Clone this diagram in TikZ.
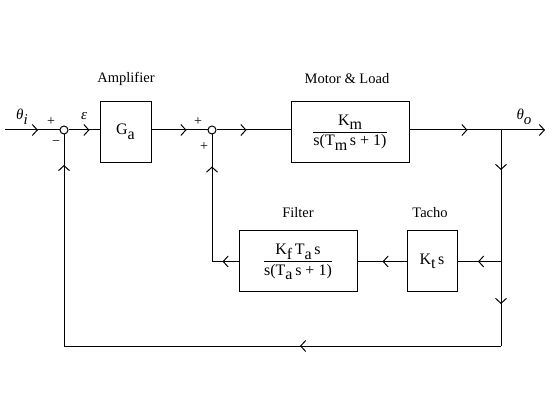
\documentclass[tikz,border=0pt]{standalone}
\usepackage{fontspec}
\setmainfont{Liberation Serif}
\usetikzlibrary{arrows.meta,decorations.markings}
\newcommand\lowsub[1]{\raisebox{-4.5pt}{#1}}
\begin{document}
\begin{tikzpicture}[x=1pt,y=-1pt, line width=1pt,
  >={Straight Barb[length=5pt,width=11pt]},
  blk/.style={draw, inner sep=0pt, font=\fontsize{16}{18}\selectfont},
  sumj/.style={draw, circle, minimum size=8pt, inner sep=0pt},
  lbl/.style={font=\fontsize{14.5}{16}\selectfont, inner sep=0pt},
  sgn/.style={font=\fontsize{14}{16}\selectfont, inner sep=0pt},
  sym/.style={font=\fontsize{15}{17}\selectfont\itshape, inner sep=0pt},
  tipat/.style={postaction={decorate,decoration={markings,mark=at position #1 with {\arrow{>}}}}}]
\fill[white] (0,0) rectangle (560,414);
\useasboundingbox (0,0) rectangle (560,414);

% blocks
\node[blk, minimum width=51pt, minimum height=61pt] (ga) at (125.5,132) {G\lowsub{a}};
\node[blk, minimum width=118pt, minimum height=61pt] (motor) at (350,132)
  {\begin{tabular}{@{}c@{}}K\lowsub{m}\\[1pt]\hline\rule{0pt}{14pt}s(T\lowsub{m}\,s + 1)\end{tabular}};
\node[blk, minimum width=50pt, minimum height=61pt] (tacho) at (432,261.5) {K\lowsub{t}\,s};
\node[blk, minimum width=118pt, minimum height=61pt] (filter) at (298,261.5)
  {\begin{tabular}{@{}c@{}}K\lowsub{f}\,T\lowsub{a}\,s\\[1pt]\hline\rule{0pt}{14pt}s(T\lowsub{a}\,s + 1)\end{tabular}};

% summing junctions
\node[sumj] (s1) at (64,130) {};
\node[sumj] (s2) at (212,130) {};

% coordinates
\coordinate (src) at (5,130);
\coordinate (br) at (501,130);
\coordinate (out) at (545,130);
\coordinate (bl) at (501,346);

% labels
\node[lbl] (lamp) at (126,79) {Amplifier};
\node[lbl] (lmot) at (347,79) {Motor \& Load};
\node[lbl] (lfil) at (298,213) {Filter};
\node[lbl] (ltac) at (430,213) {Tacho};
\node[sym] (thi) at (22,117) {θ\lowsub{i}};
\node[sym] (tho) at (524,117) {θ\lowsub{o}};
\node[sym] (eps) at (84,116) {ε};
\node[sgn] (p1) at (51,122) {+};
\node[sgn] (m1) at (56,143) {−};
\node[sgn] (p2) at (198,122) {+};
\node[sgn] (p3) at (204,147) {+};

% connectors
\draw[tipat=33pt] (src) -- (s1);
\draw[tipat=21pt] (s1) -- (ga.west |- s1);
\draw[tipat=35pt] (ga.east |- s1) -- (s2);
\draw[tipat=30pt] (s2) -- (motor.west |- s2);
\draw[tipat=58pt, ->] (motor.east |- s2) -- (out);
\draw[tipat=40pt, tipat=174pt] (br) -- (bl);
\draw[tipat=23pt] (br |- tacho.east) -- (tacho.east);
\draw[tipat=24pt] (tacho.west) -- (filter.east);
\draw[tipat=16pt, tipat=121.5pt] (filter.west) -- (s2 |- filter.west) -- (s2);
\draw[tipat=201pt, tipat=618pt] (bl) -- (s1 |- bl) -- (s1);
\end{tikzpicture}
\end{document}
